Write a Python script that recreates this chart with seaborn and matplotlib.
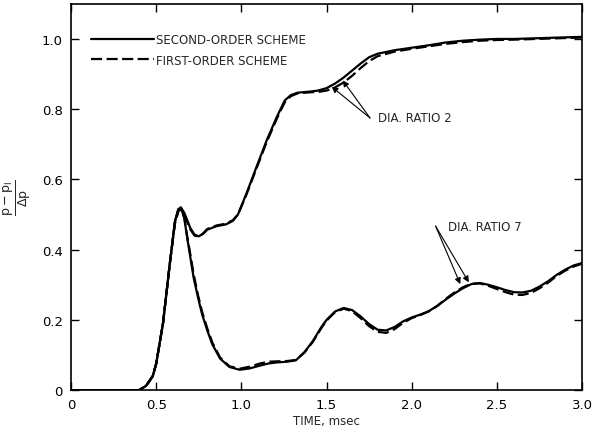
import matplotlib
matplotlib.use("Agg")
import matplotlib.pyplot as plt
import seaborn as sns

# time axis, msec -- dia. ratio 2 curves
time_2 = [0.0, 0.40, 0.44, 0.48, 0.50, 0.54, 0.58, 0.61, 0.63, 0.645, 0.665, 0.70,
          0.725, 0.75, 0.775, 0.80, 0.855, 0.91, 0.95, 0.98, 1.03, 1.09, 1.15, 1.21,
          1.255, 1.29, 1.33, 1.40, 1.45, 1.50, 1.55, 1.60, 1.65, 1.70, 1.75, 1.80,
          1.90, 2.00, 2.10, 2.20, 2.30, 2.40, 2.50, 2.60, 2.80, 3.00]
second_2 = [0.0, 0.0, 0.012, 0.04, 0.075, 0.19, 0.36, 0.48, 0.515, 0.52, 0.505, 0.462,
            0.443, 0.438, 0.445, 0.457, 0.467, 0.472, 0.482, 0.50, 0.56, 0.637, 0.713, 0.78,
            0.825, 0.84, 0.847, 0.850, 0.853, 0.86, 0.873, 0.89, 0.91, 0.93, 0.948, 0.958,
            0.968, 0.975, 0.982, 0.99, 0.995, 0.998, 1.0, 1.0, 1.003, 1.006]
first_2 = [0.0, 0.0, 0.012, 0.04, 0.075, 0.19, 0.36, 0.475, 0.51, 0.515, 0.50, 0.458,
           0.44, 0.437, 0.446, 0.459, 0.469, 0.474, 0.484, 0.50, 0.557, 0.633, 0.708, 0.775,
           0.82, 0.837, 0.845, 0.848, 0.849, 0.853, 0.862, 0.876, 0.895, 0.917, 0.937, 0.951,
           0.964, 0.972, 0.979, 0.986, 0.991, 0.995, 0.997, 0.998, 1.001, 1.004]

# time axis, msec -- dia. ratio 7 curves
time_7 = [0.0, 0.40, 0.44, 0.48, 0.50, 0.54, 0.58, 0.61, 0.63, 0.645, 0.665, 0.68,
          0.70, 0.72, 0.745, 0.77, 0.80, 0.83, 0.875, 0.93, 0.99, 1.05, 1.11, 1.16,
          1.21, 1.27, 1.32, 1.37, 1.42, 1.47, 1.50, 1.55, 1.60, 1.65, 1.70, 1.75,
          1.80, 1.85, 1.90, 1.95, 2.00, 2.05, 2.10, 2.15, 2.20, 2.25, 2.30, 2.35,
          2.40, 2.45, 2.50, 2.55, 2.60, 2.65, 2.70, 2.75, 2.80, 2.85, 2.90, 2.95, 3.00]
second_7 = [0.0, 0.0, 0.012, 0.04, 0.075, 0.19, 0.36, 0.48, 0.515, 0.52, 0.49, 0.44,
            0.38, 0.32, 0.265, 0.215, 0.17, 0.13, 0.09, 0.066, 0.058, 0.062, 0.07, 0.076,
            0.079, 0.081, 0.085, 0.108, 0.14, 0.18, 0.20, 0.224, 0.234, 0.228, 0.21, 0.188,
            0.172, 0.170, 0.180, 0.196, 0.207, 0.215, 0.225, 0.240, 0.258, 0.275, 0.290, 0.302,
            0.305, 0.300, 0.293, 0.285, 0.279, 0.278, 0.283, 0.295, 0.310, 0.328, 0.343, 0.355, 0.362]
first_7 = [0.0, 0.0, 0.012, 0.04, 0.075, 0.19, 0.36, 0.475, 0.51, 0.515, 0.492, 0.445,
           0.388, 0.33, 0.272, 0.222, 0.176, 0.135, 0.093, 0.068, 0.061, 0.067, 0.076, 0.081,
           0.082, 0.083, 0.086, 0.107, 0.138, 0.177, 0.198, 0.222, 0.232, 0.225, 0.205, 0.182,
           0.166, 0.163, 0.174, 0.192, 0.205, 0.214, 0.224, 0.240, 0.260, 0.278, 0.293, 0.303,
           0.304, 0.297, 0.288, 0.279, 0.272, 0.271, 0.277, 0.290, 0.306, 0.325, 0.340, 0.352, 0.360]

sns.set_theme(style="ticks")
plt.rcParams["font.family"] = ["DejaVu Sans"]

fig = plt.figure(figsize=(5.94, 4.39), dpi=100)
ax = fig.add_axes([0.1195, 0.109, 0.8605, 0.880])

dash = (0, (5, 2))
sns.lineplot(x=time_2, y=second_2, ax=ax, color="black", lw=1.6, label="SECOND-ORDER SCHEME")
sns.lineplot(x=time_2, y=first_2, ax=ax, color="black", lw=1.6, linestyle=dash,
             label="FIRST-ORDER SCHEME")
sns.lineplot(x=time_7, y=second_7, ax=ax, color="black", lw=1.6)
sns.lineplot(x=time_7, y=first_7, ax=ax, color="black", lw=1.6, linestyle=dash)

ax.set_xlim(0, 3.0)
ax.set_ylim(0, 1.1)
ax.set_xticks([0, 0.5, 1.0, 1.5, 2.0, 2.5, 3.0])
ax.set_xticklabels(["0", "0.5", "1.0", "1.5", "2.0", "2.5", "3.0"])
ax.set_yticks([0, 0.2, 0.4, 0.6, 0.8, 1.0])
ax.set_yticklabels(["0", "0.2", "0.4", "0.6", "0.8", "1.0"])
ax.tick_params(direction="in", length=6, width=1, top=True, right=True,
               labelsize=9.5, colors="black", pad=6)
for s in ax.spines.values():
    s.set_linewidth(1.2)
    s.set_color("black")

ax.set_xlabel("TIME, msec", fontsize=8.5, labelpad=2)
ax.set_ylabel(r"$\frac{\mathrm{p - p_I}}{\Delta\mathrm{p}}$", fontsize=13, labelpad=6)

ax.legend(loc="upper left", bbox_to_anchor=(0.0235, 0.946), frameon=False,
          fontsize=8.5, handlelength=5.3, handletextpad=0.2, labelspacing=0.65,
          borderaxespad=0.3)

arrow = dict(arrowstyle="-|>", color="black", lw=0.8, mutation_scale=9, shrinkA=0, shrinkB=0)
ax.annotate("", xy=(1.53, 0.864), xytext=(1.755, 0.775), arrowprops=arrow)
ax.annotate("", xy=(1.595, 0.882), xytext=(1.755, 0.775), arrowprops=arrow)
ax.text(1.80, 0.775, "DIA. RATIO 2", fontsize=8.5, va="center", ha="left")

ax.annotate("", xy=(2.285, 0.302), xytext=(2.14, 0.467), arrowprops=arrow)
ax.annotate("", xy=(2.335, 0.307), xytext=(2.14, 0.467), arrowprops=arrow)
ax.text(2.21, 0.467, "DIA. RATIO 7", fontsize=8.5, va="center", ha="left")

fig.savefig("out.png", dpi=100)
